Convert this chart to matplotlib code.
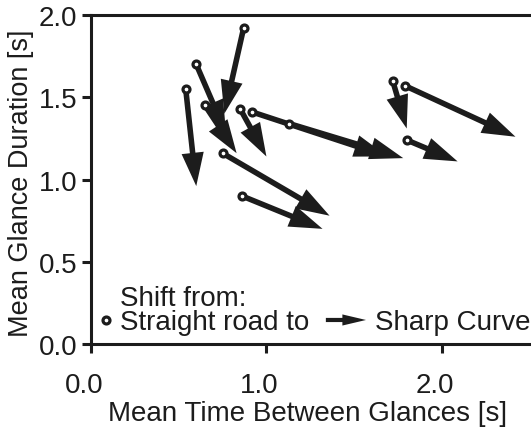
import matplotlib
matplotlib.use('Agg')

import matplotlib.pyplot as plt
import matplotlib.transforms as mtransforms

plt.rcParams['font.family'] = ['Liberation Sans', 'DejaVu Sans']
plt.rcParams['font.size'] = 20

# Start points (straight road) and end points (sharp curve), one entry per driver
x_straight = [0.87, 0.60, 0.54, 0.65, 0.85, 0.92, 1.13, 0.75, 0.86, 1.72, 1.79, 1.80]
y_straight = [1.92, 1.70, 1.55, 1.45, 1.43, 1.41, 1.34, 1.16, 0.90, 1.60, 1.57, 1.24]
x_curve = [0.76, 0.77, 0.60, 0.83, 1.00, 1.69, 1.78, 1.36, 1.32, 1.80, 2.42, 2.09]
y_curve = [1.40, 1.28, 0.96, 1.16, 1.14, 1.14, 1.13, 0.78, 0.70, 1.31, 1.26, 1.11]

x_ticks = [0.0, 1.0, 2.0]
y_ticks = [0.0, 0.5, 1.0, 1.5, 2.0]

ink = '#1c1c1c'

fig = plt.figure(figsize=(5.31, 4.35), dpi=100)
ax = fig.add_axes([0.1714, 0.2069, 0.8588, 0.7563])
ax.set_xlim(0, 2.6)
ax.set_ylim(0, 2.0)

# Arrows from straight road to sharp curve
arrow_style = 'simple,head_length=24,head_width=16,tail_width=4'
for xs, ys, xc, yc in zip(x_straight, y_straight, x_curve, y_curve):
    ax.annotate('', xy=(xc, yc), xytext=(xs, ys),
                arrowprops=dict(arrowstyle=arrow_style, mutation_scale=1,
                                color=ink, lw=0, shrinkA=0, shrinkB=0),
                annotation_clip=False, zorder=2)

ax.plot(x_straight, y_straight, 'o', ms=5, mew=2.3, mfc='white', mec=ink,
        zorder=3, clip_on=False)

# Hand-made legend
ax.text(0.0636, 0.1185, 'Shift from:', transform=ax.transAxes,
        va='baseline', ha='left', color=ink)
ax.plot([0.033], [0.073], 'o', ms=5, mew=2.3, mfc='white', mec=ink,
        transform=ax.transAxes, clip_on=False)
ax.text(0.0636, 0.0456, 'Straight road to', transform=ax.transAxes,
        va='baseline', ha='left', color=ink)
ax.annotate('', xy=(0.603, 0.073), xytext=(0.515, 0.073),
            xycoords='axes fraction', textcoords='axes fraction',
            arrowprops=dict(arrowstyle='simple,head_length=17,head_width=8,tail_width=3',
                            mutation_scale=1, color=ink, lw=0, shrinkA=0, shrinkB=0))
ax.text(0.623, 0.0456, 'Sharp Curve', transform=ax.transAxes,
        va='baseline', ha='left', color=ink)

# Axes styling
for side in ['left', 'bottom', 'top', 'right']:
    ax.spines[side].set_linewidth(2.2)
    ax.spines[side].set_color(ink)

ax.set_xticks(x_ticks)
ax.set_yticks(y_ticks)
ax.set_xticklabels(['%.1f' % v for v in x_ticks])
ax.set_yticklabels(['%.1f' % v for v in y_ticks])
ax.tick_params(direction='out', length=6.5, width=2.2, color=ink,
               labelcolor=ink, labelsize=20)
ax.tick_params(axis='y', pad=3.5)
ax.tick_params(axis='x', pad=14)

offset = mtransforms.ScaledTranslation(-7 / 100, 0, fig.dpi_scale_trans)
for label in ax.get_xticklabels():
    label.set_transform(label.get_transform() + offset)

ax.set_xlabel('Mean Time Between Glances [s]', color=ink)
ax.set_ylabel('Mean Glance Duration [s]', color=ink, fontsize=19.5)
ax.xaxis.set_label_coords(0.474, -0.17)
ax.yaxis.set_label_coords(-0.125, 0.49)

plt.savefig('out.png', dpi=100)
plt.close()
